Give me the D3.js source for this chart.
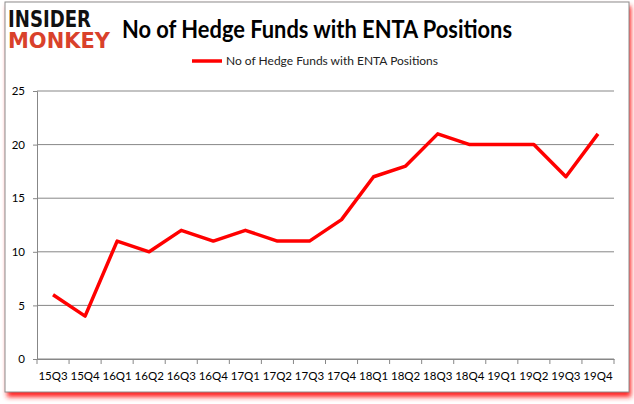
<!DOCTYPE html>
<html>
<head>
<meta charset="utf-8">
<script src="https://cdn.jsdelivr.net/npm/d3@7"></script>
<style>
  body { margin: 0; background: #fff; }
  svg text { font-family: Lato, "Open Sans", sans-serif; }
</style>
</head>
<body>
<div id="chart"></div>
<script>
const quarters = ["15Q3", "15Q4", "16Q1", "16Q2", "16Q3", "16Q4", "17Q1", "17Q2", "17Q3",
  "17Q4", "18Q1", "18Q2", "18Q3", "18Q4", "19Q1", "19Q2", "19Q3", "19Q4"];
const funds = [6, 4, 11, 10, 12, 11, 12, 11, 11, 13, 17, 18, 21, 20, 20, 20, 17, 21];
const yTicks = [0, 5, 10, 15, 20, 25];
const seriesName = "No of Hedge Funds with ENTA Positions";

const W = 634, H = 404;
const margin = { top: 91, right: 20, bottom: 45, left: 37 };
const width = W - margin.left - margin.right,
  height = H - margin.top - margin.bottom;

const svg = d3.select("#chart").append("svg")
  .attr("width", W).attr("height", H);

// frame with red shadow
const defs = svg.append("defs");
const f = defs.append("filter").attr("id", "shadow")
  .attr("x", "-5%").attr("y", "-5%").attr("width", "110%").attr("height", "115%");
f.append("feGaussianBlur").attr("stdDeviation", 2.5);
svg.append("rect").attr("x", 7).attr("y", 6).attr("width", 624).attr("height", 391)
  .attr("fill", "#ff2020").attr("filter", "url(#shadow)");
svg.append("rect").attr("x", 5).attr("y", 2).attr("width", 624).attr("height", 390)
  .attr("fill", "#fff").attr("stroke", "#8c8c8c").attr("stroke-width", 1);

// logo
svg.append("text").attr("x", 8).attr("y", 27).text("INSIDER")
  .attr("font-size", 23).attr("font-weight", 900).attr("fill", "#111")
  .attr("textLength", 83).attr("lengthAdjust", "spacingAndGlyphs")
  .style("font-family", "'DejaVu Sans', sans-serif");
svg.append("text").attr("x", 8).attr("y", 48).text("MONKEY")
  .attr("font-size", 22).attr("font-weight", 900).attr("fill", "#d9412b")
  .attr("textLength", 102).attr("lengthAdjust", "spacingAndGlyphs")
  .style("font-family", "'DejaVu Sans', sans-serif");

// title
svg.append("text").attr("x", 122).attr("y", 38).text(seriesName)
  .attr("font-size", 24).attr("font-weight", 700).attr("fill", "#000")
  .attr("textLength", 390).attr("lengthAdjust", "spacingAndGlyphs");

// legend
svg.append("line").attr("x1", 192).attr("x2", 222).attr("y1", 61).attr("y2", 61)
  .attr("stroke", "#ff0000").attr("stroke-width", 3.5);
svg.append("text").attr("x", 226).attr("y", 65).text(seriesName)
  .attr("font-size", 11.5).attr("fill", "#222")
  .attr("textLength", 212).attr("lengthAdjust", "spacingAndGlyphs");

const g = svg.append("g")
  .attr("transform", "translate(" + margin.left + "," + margin.top + ")");

const x = d3.scaleBand().domain(quarters).range([0, width]);
const y = d3.scaleLinear().domain([0, 25]).range([height, 0]);

// gridlines
g.append("g").selectAll("line").data(yTicks).join("line")
  .attr("x1", 0).attr("x2", width)
  .attr("y1", d => y(d)).attr("y2", d => y(d))
  .attr("stroke", "#878787").attr("stroke-width", 1);

// y axis
const yAxis = g.append("g").call(d3.axisLeft(y).tickValues(yTicks).tickSize(4).tickPadding(8));
yAxis.select(".domain").attr("stroke", "#878787");
yAxis.selectAll(".tick line").attr("stroke", "#878787");
yAxis.selectAll("text").attr("font-size", 11.5).attr("fill", "#000")
  .style("font-family", "Lato, sans-serif");

// x axis with ticks at category boundaries
const xAxis = g.append("g").attr("transform", "translate(0," + height + ")")
  .call(d3.axisBottom(x).tickSize(0).tickPadding(13));
xAxis.select(".domain").attr("stroke", "#878787");
xAxis.selectAll("text").attr("font-size", 11.5).attr("fill", "#000")
  .style("font-family", "Lato, sans-serif");
xAxis.selectAll(".bound").data(d3.range(quarters.length + 1)).join("line")
  .attr("x1", i => i * x.step()).attr("x2", i => i * x.step())
  .attr("y1", 0).attr("y2", 5).attr("stroke", "#878787");

// series line
g.append("path").datum(funds)
  .attr("fill", "none").attr("stroke", "#ff0000").attr("stroke-width", 3.5)
  .attr("stroke-linejoin", "round")
  .attr("d", d3.line().x((d, i) => x(quarters[i]) + x.bandwidth() / 2).y(d => y(d)));
</script>
</body>
</html>
